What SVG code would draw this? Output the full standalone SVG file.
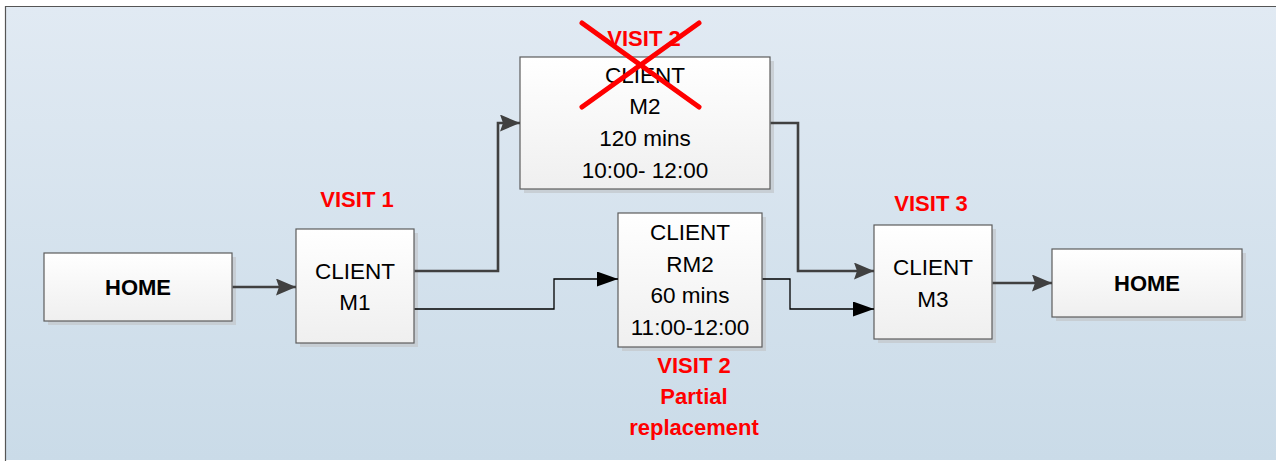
<svg xmlns="http://www.w3.org/2000/svg" width="1276" height="461" viewBox="0 0 1276 461">
<defs>
<linearGradient id="bg" x1="0" y1="0" x2="0" y2="1">
<stop offset="0" stop-color="#e1eaf3"/>
<stop offset="1" stop-color="#cadbe8"/>
</linearGradient>
<linearGradient id="boxfill" x1="0" y1="0" x2="0" y2="1">
<stop offset="0" stop-color="#ffffff"/>
<stop offset="1" stop-color="#efefef"/>
</linearGradient>
<marker id="arrGrey" markerUnits="userSpaceOnUse" markerWidth="21" markerHeight="18" refX="20" refY="8.5" orient="auto">
<path d="M0,0 L20,8.5 L0,17 L3,8.5 Z" fill="#404040"/>
</marker>
<marker id="arrBlack" markerUnits="userSpaceOnUse" markerWidth="22" markerHeight="16" refX="21" refY="7.5" orient="auto">
<path d="M0,0 L21,7.5 L0,15 Z" fill="#000000"/>
</marker>
</defs>
<style>
.shadow{fill:#c4c9ce;opacity:0.8}
.box{fill:url(#boxfill);stroke:#5c5c5c;stroke-width:1.2}
.t{font-family:"Liberation Sans",Arial,sans-serif;font-size:22.5px;fill:#000;text-anchor:middle}
.tb{font-family:"Liberation Sans",Arial,sans-serif;font-size:22px;font-weight:bold;fill:#000;text-anchor:middle}
.red{font-family:"Liberation Sans",Arial,sans-serif;font-size:22px;font-weight:bold;fill:#ff0000;text-anchor:middle}
.thick{fill:none;stroke:#404040;stroke-width:2.6;marker-end:url(#arrGrey)}
.thin{fill:none;stroke:#000;stroke-width:1.3;marker-end:url(#arrBlack)}
.cross{stroke:#ff0000;stroke-width:5;stroke-linecap:round}
</style>
<rect x="0" y="0" width="1276" height="461" fill="#ffffff"/>
<rect x="5" y="6" width="1271" height="454" fill="url(#bg)"/>
<path d="M5.5,461 V6.5 H1276" fill="none" stroke="#555" stroke-width="1.2"/>

<g id="home1">
<rect class="shadow" x="48" y="257" width="188" height="68"/>
<rect class="box" x="44" y="253" width="188" height="68"/>
<text class="tb" x="138" y="295">HOME</text>
</g>

<g id="clientM1">
<rect class="shadow" x="300" y="233" width="118" height="114"/>
<rect class="box" x="296" y="229" width="118" height="114"/>
<text class="t" x="355" y="279">CLIENT</text>
<text class="t" x="355" y="310">M1</text>
</g>
<text id="visit1" class="red" x="357" y="207">VISIT 1</text>

<g id="clientM2">
<rect class="shadow" x="524" y="61" width="250" height="132"/>
<rect class="box" x="520" y="57" width="250" height="132"/>
<text class="t" x="645" y="83">CLIENT</text>
<text class="t" x="645" y="114">M2</text>
<text class="t" x="645" y="146">120 mins</text>
<text class="t" x="645" y="178">10:00- 12:00</text>
</g>
<text id="visit2a" class="red" x="644" y="46">VISIT 2</text>
<g id="cross">
<line class="cross" x1="582" y1="23" x2="699" y2="107"/>
<line class="cross" x1="699" y1="23" x2="582" y2="107"/>
</g>

<g id="clientRM2">
<rect class="shadow" x="622" y="217" width="144" height="134"/>
<rect class="box" x="618" y="213" width="144" height="134"/>
<text class="t" x="690" y="240">CLIENT</text>
<text class="t" x="690" y="272">RM2</text>
<text class="t" x="690" y="303">60 mins</text>
<text class="t" x="690" y="335">11:00-12:00</text>
</g>
<g id="visit2b">
<text class="red" x="694" y="373">VISIT 2</text>
<text class="red" x="694" y="404">Partial</text>
<text class="red" x="694" y="435">replacement</text>
</g>

<g id="clientM3">
<rect class="shadow" x="878" y="229" width="118" height="114"/>
<rect class="box" x="874" y="225" width="118" height="114"/>
<text class="t" x="933" y="275">CLIENT</text>
<text class="t" x="933" y="307">M3</text>
</g>
<text id="visit3" class="red" x="931" y="211">VISIT 3</text>

<g id="home2">
<rect class="shadow" x="1056" y="253" width="190" height="68"/>
<rect class="box" x="1052" y="249" width="190" height="68"/>
<text class="tb" x="1147" y="291">HOME</text>
</g>

<g id="connectors">
<path class="thick" d="M232.6,287 H296"/>
<path class="thick" d="M414.6,271 H498 V123 H520"/>
<path class="thin" d="M414.6,309 H554 V279 H618"/>
<path class="thick" d="M770.6,123 H798 V271 H874"/>
<path class="thin" d="M762.6,279 H790 V309 H874"/>
<path class="thick" d="M992.6,283 H1052"/>
</g>
</svg>
